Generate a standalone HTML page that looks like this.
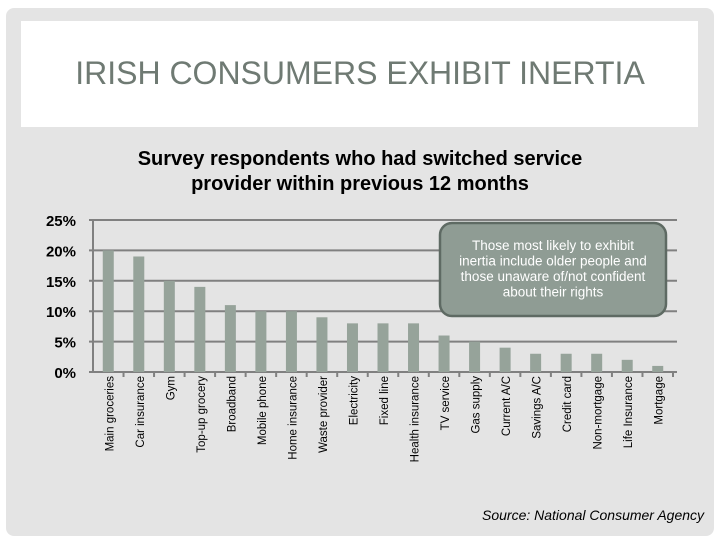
<!DOCTYPE html>
<html><head><meta charset="utf-8"><style>
body{margin:0;width:720px;height:540px;background:#fff;overflow:hidden;font-family:"Liberation Sans",sans-serif}
#panel{position:absolute;left:6px;top:8px;width:708px;height:528px;background:#e4e4e4;border-radius:8px}
#titlebox{position:absolute;left:21px;top:21px;width:677px;height:106px;background:#fff}
#title{position:absolute;left:0;top:55px;width:720px;text-align:center;font-size:32px;color:#6f7a73}
#sub{position:absolute;left:0;top:147px;width:720px;text-align:center;font-size:20px;font-weight:bold;line-height:25px;color:#000}
#src{position:absolute;left:482px;top:507px;font-size:14px;font-style:italic;color:#000}
</style></head><body>
<div id="panel"></div>
<div id="titlebox"></div>
<div id="title">IRISH CONSUMERS EXHIBIT INERTIA</div>
<div id="sub">Survey respondents who had switched service<br>provider within previous 12 months</div>
<svg id="chart" width="720" height="540" style="position:absolute;left:0;top:0"></svg>
<div id="src">Source: National Consumer Agency</div>
<script>
const categories=["Main groceries","Car insurance","Gym","Top-up grocery","Broadband","Mobile phone","Home insurance","Waste provider","Electricity","Fixed line","Health insurance","TV service","Gas supply","Current A/C","Savings A/C","Credit card","Non-mortgage","Life Insurance","Mortgage"];
const values=[20,19,15,14,11,10,10,9,8,8,8,6,5,4,3,3,3,2,1];
const yTicks=[0,5,10,15,20,25];
const yTickLabels=["0%","5%","10%","15%","20%","25%"];
const svg=document.getElementById('chart');
const NS="http://www.w3.org/2000/svg";
const X0=93,X1=673,Y0=372,Y1=220,YMAX=25;
const y=v=>Y0-(v/YMAX)*(Y0-Y1);
const bw=(X1-X0)/categories.length;
const x=i=>X0+bw*(i+0.5);
function mk(t,a){const e=document.createElementNS(NS,t);for(const k in a)e.setAttribute(k,a[k]);svg.appendChild(e);return e;}
yTicks.forEach((t,i)=>{
 const g=mk('line',{x1:X0-4,x2:X1+4,y1:y(t),y2:y(t),stroke:'#808080','stroke-width':2});
 
 
 const l=mk('text',{x:76,y:y(t)+6,'text-anchor':'end','font-size':15,'font-weight':'bold','font-family':'Liberation Sans'});
 l.textContent=yTickLabels[i];
 
 
});
const ax=mk('line',{x1:X0,x2:X0,y1:Y1,y2:Y0,stroke:'#808080','stroke-width':2});


values.forEach((v,i)=>{
 const b=mk('rect',{x:x(i)-5.5,y:y(v),width:11,height:Y0-y(v),fill:'#96a39a'});
 
 
 const tk=mk('line',{x1:X0+bw*(i+1),x2:X0+bw*(i+1),y1:Y0,y2:Y0+5,stroke:'#808080','stroke-width':2});
 
 
 const t=mk('text',{transform:`translate(${x(i)+5},${Y0+4}) rotate(-90)`,'text-anchor':'end','font-size':11.5,'font-family':'Liberation Sans'});
 t.textContent=categories[i];
 
 
});
const c=mk('rect',{x:440,y:223,width:226,height:93,rx:12,fill:'#8f9c94',stroke:'#5e6a63','stroke-width':2.5});


["Those most likely to exhibit","inertia include older people and","those unaware of/not confident","about their rights"].forEach((s,i)=>{
 const t=mk('text',{x:553,y:250+i*15.5,'text-anchor':'middle','font-size':13.5,fill:'#fff','font-family':'Liberation Sans'});
 t.textContent=s;
 
 
});
</script>
</body></html>
